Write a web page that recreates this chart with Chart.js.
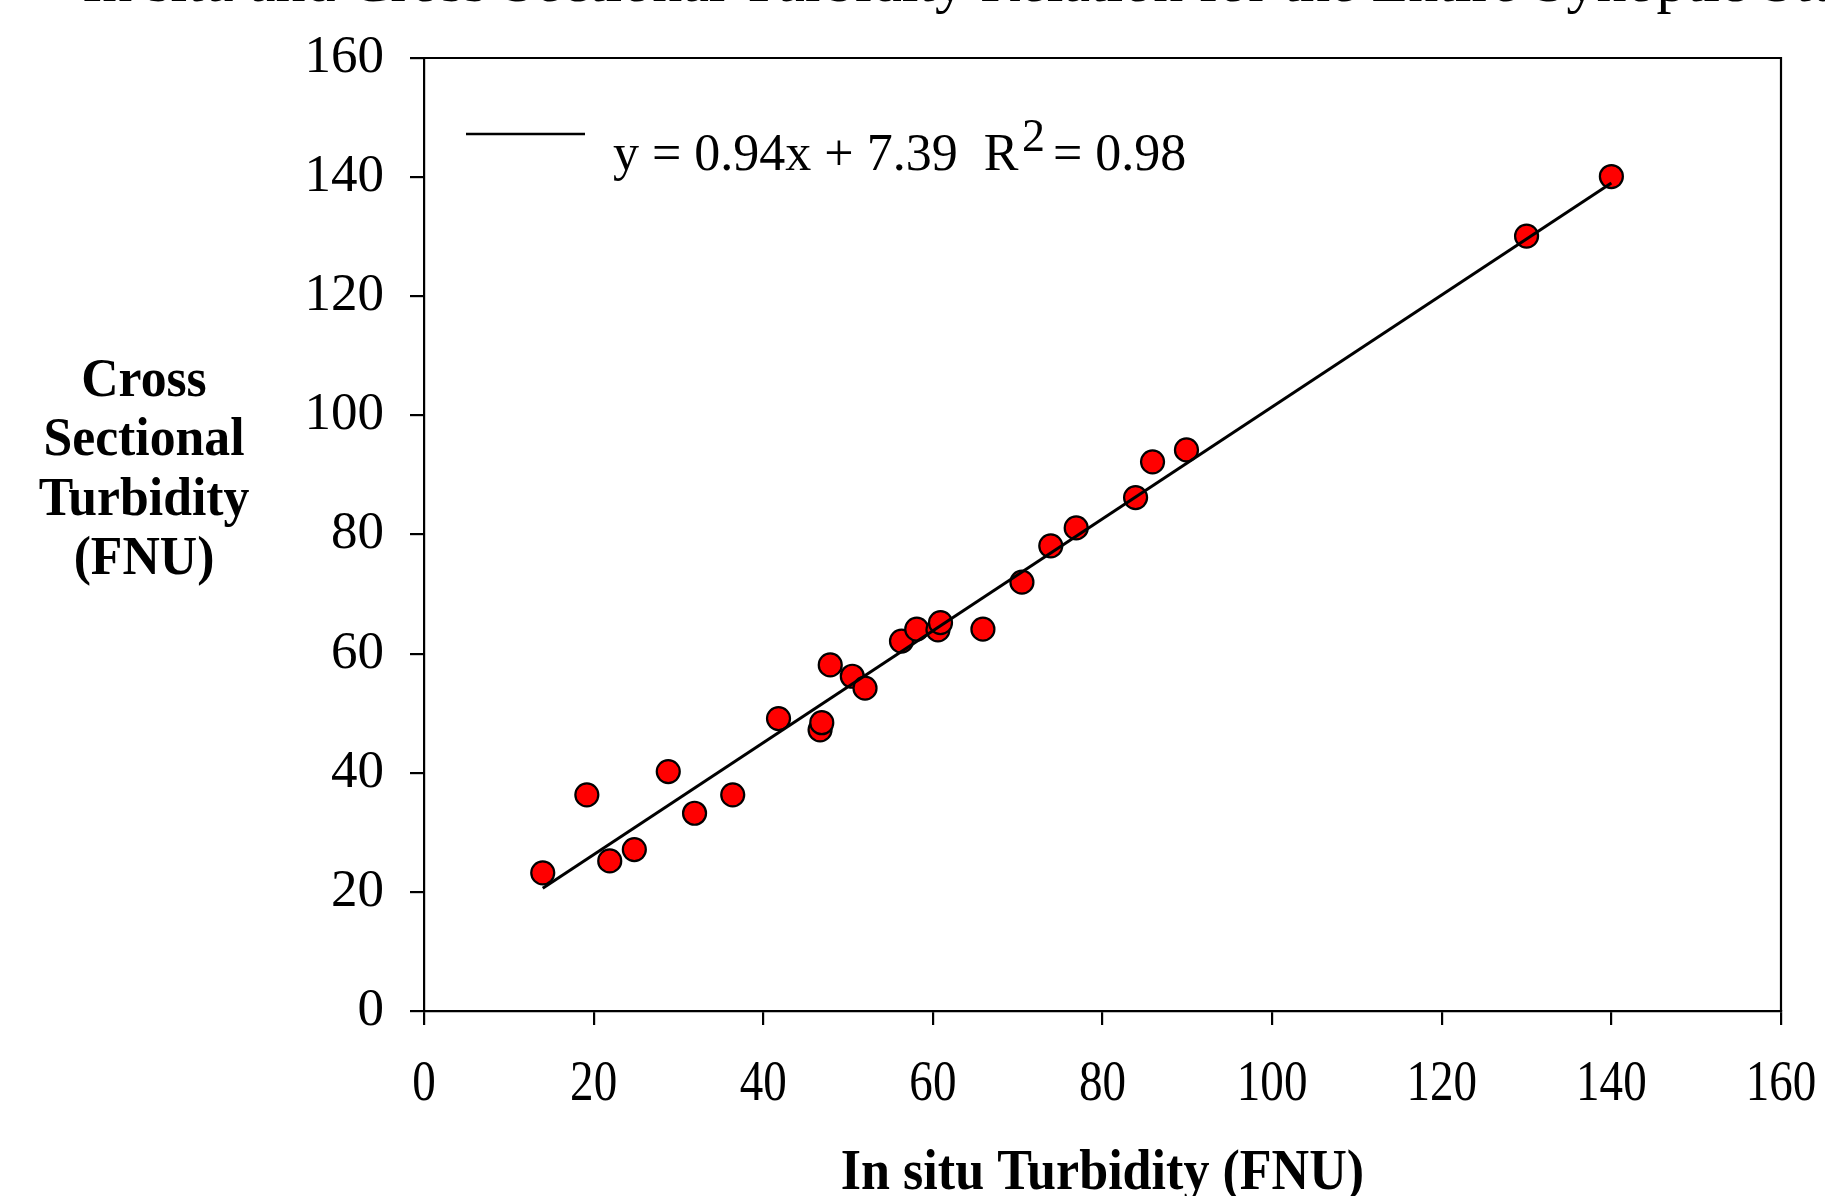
<!DOCTYPE html>
<html>
<head>
<meta charset="utf-8">
<script src="https://cdn.jsdelivr.net/npm/chart.js@4/dist/chart.umd.min.js"></script>
<style>
  html, body { margin: 0; padding: 0; background: #ffffff; overflow: hidden; }
  #wrap { position: relative; width: 1825px; height: 1196px; }
</style>
</head>
<body>
<div id="wrap"><canvas id="c" width="1825" height="1196"></canvas></div>
<script>
// ---- data ----
const titleText = "In situ and Cross Sectional Turbidity Relation for the Entire Synoptic Study";
const xAxisTitle = "In situ Turbidity (FNU)";
const yAxisTitleLines = ["Cross", "Sectional", "Turbidity", "(FNU)"];
const legendMain = "y = 0.94x + 7.39  R";
const legendSup = "2";
const legendTail = " = 0.98";
const xTicks = [0, 20, 40, 60, 80, 100, 120, 140, 160];
const yTicks = [0, 20, 40, 60, 80, 100, 120, 140, 160];

const insituTurbidity = [14.0, 19.2, 21.9, 24.8, 28.8, 31.9, 36.4, 41.8, 46.7, 46.9, 47.9, 50.5, 52.0,
                         56.3, 58.1, 60.6, 60.9, 65.9, 70.5, 73.9, 76.9, 83.9, 85.9, 89.9, 130.0, 140.0];
const crossTurbidity = [23.2, 36.3, 25.2, 27.1, 40.2, 33.2, 36.3, 49.1, 47.2, 48.4, 58.1, 56.2, 54.2,
                        62.1, 64.1, 64.0, 65.2, 64.1, 72.0, 78.1, 81.1, 86.2, 92.2, 94.2, 130.1, 140.1];

// regression line end points as drawn
const fitX = [14.0, 140.0];
const fitY = [20.6, 139.0];

// ---- build chart ----
const SERIF = "'Liberation Serif', 'Times New Roman', Times, serif";

const points = insituTurbidity.map((x, i) => ({ x: x, y: crossTurbidity[i] }));
const fitPoints = fitX.map((x, i) => ({ x: x, y: fitY[i] }));

function scaledText(ctx, text, x, y, font, sx, align) {
  ctx.save();
  ctx.font = font;
  ctx.textAlign = align;
  ctx.textBaseline = 'alphabetic';
  ctx.translate(x, y);
  ctx.scale(sx, 1);
  ctx.fillText(text, 0, 0);
  ctx.restore();
}

const decorPlugin = {
  id: 'decor',
  afterDraw(chart) {
    const ctx = chart.ctx;
    const a = chart.chartArea;
    const xs = chart.scales.x;
    ctx.save();
    ctx.fillStyle = '#000';
    // frame top & right
    ctx.strokeStyle = '#000';
    ctx.lineWidth = 2.2;
    ctx.beginPath();
    ctx.moveTo(a.left, a.top);
    ctx.lineTo(a.right, a.top);
    ctx.lineTo(a.right, a.bottom);
    ctx.stroke();

    // x tick labels (tall, narrow serif digits)
    xTicks.forEach(v => {
      scaledText(ctx, String(v), xs.getPixelForValue(v), a.bottom + 89, "56px " + SERIF, 0.84, 'center');
    });

    // x-axis title
    scaledText(ctx, xAxisTitle, (a.left + a.right) / 2, 1189, "bold 56px " + SERIF, 0.93, 'center');

    // y-axis title (horizontal, multi-line)
    yAxisTitleLines.forEach((t, i) => {
      scaledText(ctx, t, 144, 396 + i * 59.3, "bold 55px " + SERIF, 0.94, 'center');
    });

    // legend
    ctx.lineWidth = 2.5;
    ctx.beginPath();
    ctx.moveTo(466, 134);
    ctx.lineTo(585, 134);
    ctx.stroke();
    scaledText(ctx, legendMain, 613, 170, "52px " + SERIF, 1, 'left');
    scaledText(ctx, legendSup, 1022, 151, "46px " + SERIF, 1, 'left');
    scaledText(ctx, legendTail, 1040, 170, "52px " + SERIF, 1, 'left');

    // clipped title at the very top
    ctx.font = "60px " + SERIF;
    const lead = ctx.measureText("In situ and Cross Sectional Turbidit").width;
    scaledText(ctx, titleText, 935 - lead, 1, "60px " + SERIF, 1, 'left');
    ctx.restore();
  }
};

new Chart(document.getElementById('c'), {
  type: 'scatter',
  data: {
    datasets: [
      {
        label: 'fit',
        type: 'line',
        data: fitPoints,
        borderColor: '#000',
        borderWidth: 3,
        pointRadius: 0,
        fill: false,
        tension: 0,
        order: 1
      },
      {
        label: 'obs',
        data: points,
        backgroundColor: '#ff0000',
        borderColor: '#000000',
        borderWidth: 2.2,
        pointRadius: 11.5,
        order: 2
      }
    ]
  },
  options: {
    responsive: false,
    animation: false,
    devicePixelRatio: 1,
    layout: { padding: { top: 58, right: 44, left: 0, bottom: 0 } },
    plugins: { legend: { display: false }, tooltip: { enabled: false }, title: { display: false } },
    scales: {
      x: {
        type: 'linear',
        min: xTicks[0],
        max: xTicks[xTicks.length - 1],
        afterBuildTicks: s => { s.ticks = xTicks.map(v => ({ value: v })); },
        afterFit: s => { s.height = 185; s.paddingLeft = 0; s.paddingRight = 0; },
        ticks: { display: false, autoSkip: false },
        grid: { drawOnChartArea: false, drawTicks: true, tickLength: 14, color: '#000', lineWidth: 2.2 },
        border: { display: true, color: '#000', width: 2.2 },
        title: { display: false }
      },
      y: {
        type: 'linear',
        min: yTicks[0],
        max: yTicks[yTicks.length - 1],
        afterBuildTicks: s => { s.ticks = yTicks.map(v => ({ value: v })); },
        afterFit: s => { s.width = 424; },
        ticks: { color: '#000', font: { family: SERIF, size: 53 }, padding: 26, autoSkip: false },
        grid: { drawOnChartArea: false, drawTicks: true, tickLength: 14, color: '#000', lineWidth: 2.2 },
        border: { display: true, color: '#000', width: 2.2 },
        title: { display: false }
      }
    }
  },
  plugins: [decorPlugin]
});
</script>
</body>
</html>
